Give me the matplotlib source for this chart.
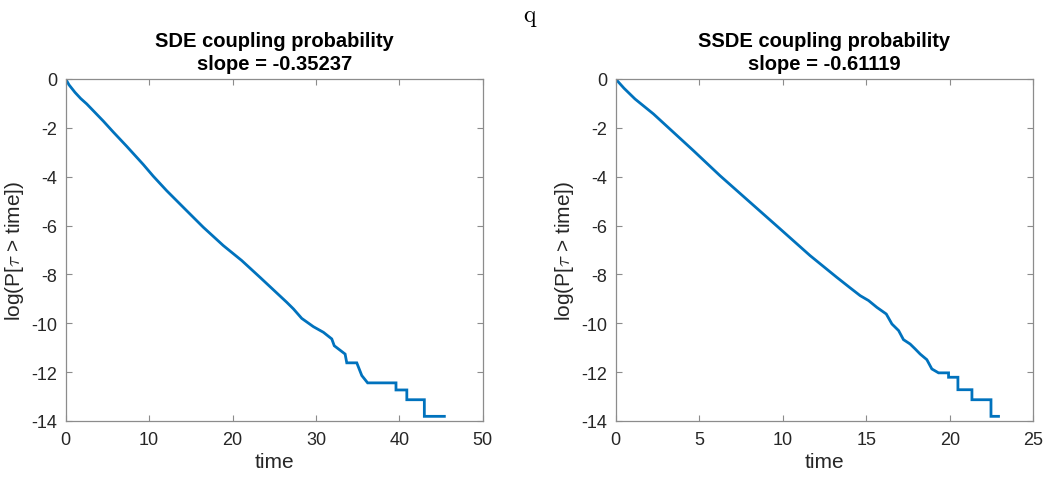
import matplotlib
matplotlib.use("Agg")
import numpy as np
import matplotlib.pyplot as plt

plt.rcParams["font.family"] = ["Liberation Sans", "DejaVu Sans"]
plt.rcParams["mathtext.fontset"] = "cm"
plt.rcParams["axes.unicode_minus"] = False

LINE_COLOR = "#0072BD"
AX_COLOR = "#8c8c8c"
TXT_COLOR = "#262626"

# SDE panel: time vs log survival probability (duplicated times = jumps)
sde_time = [0, 0.4, 1.12, 1.8, 2.52, 4.5, 5.7, 7.3, 9.3, 10.5, 12.1, 14.5,
            16.5, 18.9, 21.1, 23.3, 26.5, 27.3, 28.3, 29.7, 30.9, 31.9,
            32.2, 33.5, 33.7, 34.9, 35.5, 36.2, 39.6, 39.6, 40.9, 40.9,
            43.0, 43.0, 45.4]
sde_logp = [0, -0.24, -0.55, -0.8, -1.02, -1.72, -2.17, -2.75, -3.5,
            -3.98, -4.57, -5.39, -6.07, -6.82, -7.43, -8.12, -9.14, -9.41,
            -9.80, -10.14, -10.37, -10.64, -10.92, -11.26, -11.62, -11.62,
            -12.14, -12.44, -12.44, -12.73, -12.73, -13.13, -13.13, -13.81,
            -13.81]

# SSDE panel
ssde_time = [0, 0.5, 1.16, 2.26, 4.65, 6.25, 8.05, 9.85, 11.64, 13.24,
             14.0, 14.64, 15.14, 15.64, 16.2, 16.54, 16.94, 17.23, 17.63,
             17.93, 18.23, 18.63, 18.93, 19.33, 19.93, 19.93, 20.49, 20.49,
             21.33, 21.33, 22.47, 22.47, 22.92]
ssde_logp = [0, -0.38, -0.82, -1.43, -2.93, -3.96, -5.05, -6.14, -7.23,
             -8.12, -8.53, -8.87, -9.07, -9.35, -9.62, -10.03, -10.30,
             -10.67, -10.85, -11.05, -11.26, -11.49, -11.87, -12.03, -12.03,
             -12.21, -12.21, -12.72, -12.72, -13.13, -13.13, -13.81, -13.81]

panels = [
    (sde_time, sde_logp, "SDE coupling probability\nslope = -0.35237",
     50, np.arange(0, 51, 10), [0.0628, 0.1227, 0.3987, 0.711]),
    (ssde_time, ssde_logp, "SSDE coupling probability\nslope = -0.61119",
     25, np.arange(0, 26, 5), [0.5886, 0.1227, 0.3992, 0.711]),
]

fig = plt.figure(figsize=(10.46, 4.81), dpi=100)

for t, lp, title, xmax, xticks, pos in panels:
    ax = fig.add_axes(pos)
    ax.plot(t, lp, color=LINE_COLOR, lw=2.0, solid_joinstyle="miter")
    ax.set_xlim(0, xmax)
    ax.set_ylim(-14, 0)
    ax.set_xticks(xticks)
    ax.set_yticks(np.arange(-14, 1, 2))
    ax.tick_params(direction="in", top=True, right=True, length=4,
                   width=0.8, color=AX_COLOR, labelsize=13,
                   labelcolor=TXT_COLOR)
    ax.tick_params(axis="x", pad=7)
    ax.tick_params(axis="y", pad=6)
    for s in ax.spines.values():
        s.set_color(AX_COLOR)
        s.set_linewidth(0.9)
    ax.set_title(title, fontsize=14.5, fontweight="bold", color="black",
                 pad=7, linespacing=1.3)
    ax.set_xlabel("time", fontsize=15, color=TXT_COLOR, labelpad=3)
    ax.set_ylabel(r"log(P[$\tau$ > time])", fontsize=15, color=TXT_COLOR,
                  labelpad=4)

fig.text(0.507, 0.962, r"$\mathrm{q}$", fontsize=17, ha="center",
         va="center")

plt.savefig("out.png", dpi=100)
